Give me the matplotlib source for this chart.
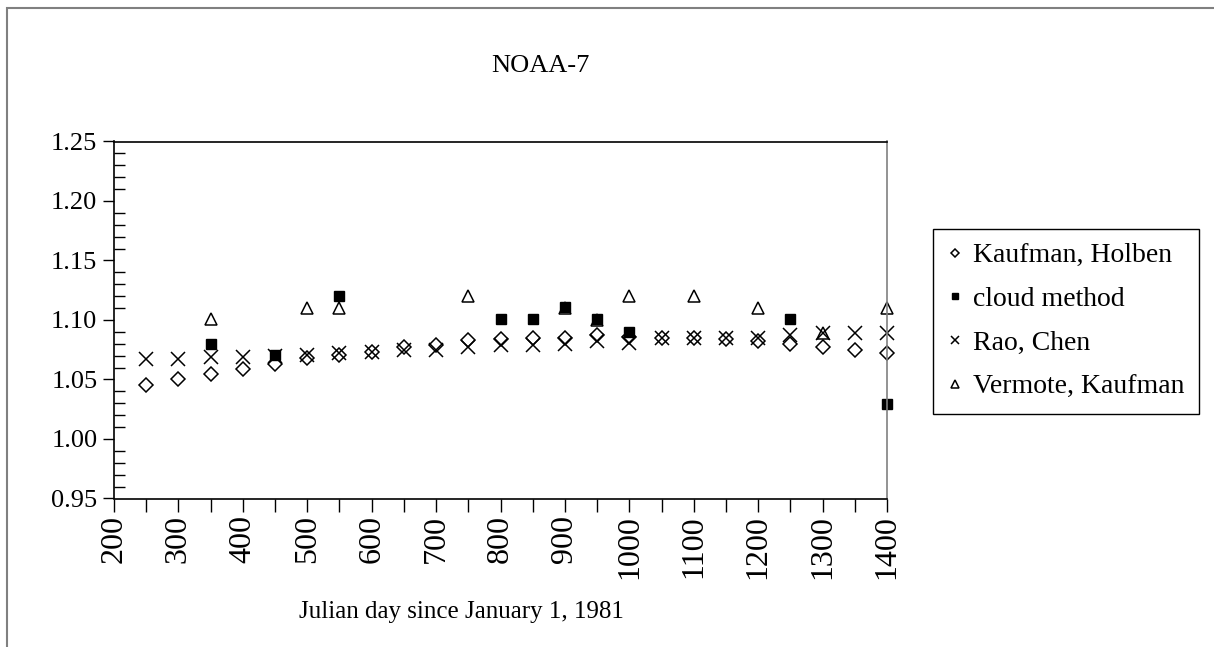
import matplotlib
matplotlib.use("Agg")
import matplotlib.pyplot as plt
from matplotlib.patches import Rectangle
from matplotlib.ticker import MultipleLocator

plt.rcParams['font.family'] = ['Liberation Serif', 'DejaVu Serif']

# Kaufman, Holben
kh_day = [250, 300, 350, 400, 450, 500, 550, 600, 650, 700, 750, 800, 850, 900,
          950, 1000, 1050, 1100, 1150, 1200, 1250, 1300, 1350, 1400]
kh_val = [1.045, 1.050, 1.055, 1.059, 1.063, 1.068, 1.071, 1.073, 1.077, 1.079,
          1.083, 1.084, 1.085, 1.085, 1.087, 1.086, 1.085, 1.085, 1.084, 1.082,
          1.080, 1.077, 1.075, 1.072]

# cloud method
cm_day = [350, 450, 550, 800, 850, 900, 950, 1000, 1250, 1400]
cm_val = [1.080, 1.071, 1.120, 1.101, 1.101, 1.111, 1.101, 1.090, 1.101, 1.029]

# Rao, Chen
rc_day = kh_day
rc_val = [1.067, 1.067, 1.069, 1.069, 1.070, 1.071, 1.072, 1.073, 1.075, 1.075,
          1.077, 1.079, 1.079, 1.080, 1.082, 1.081, 1.085, 1.085, 1.085, 1.085,
          1.087, 1.089, 1.089, 1.089]

# Vermote, Kaufman
vk_day = [350, 500, 550, 750, 900, 950, 1000, 1100, 1200, 1300, 1400]
vk_val = [1.101, 1.110, 1.110, 1.120, 1.110, 1.100, 1.120, 1.120, 1.110, 1.089, 1.110]

W, H = 1214, 647
fig = plt.figure(figsize=(W / 100, H / 100), dpi=100)
ax = fig.add_axes([114 / W, 1 - 498.5 / H, (887 - 114) / W, (498.5 - 141.5) / H])

ax.plot(kh_day, kh_val, ls='none', marker='D', ms=7.5, mfc='white', mec='black', mew=1.1,
        label='Kaufman, Holben', clip_on=False)
ax.plot(cm_day, cm_val, ls='none', marker='s', ms=6.5, mfc='black', mec='black',
        label='cloud method', clip_on=False)
ax.plot(rc_day, rc_val, ls='none', marker='x', ms=9.5, color='black', mew=1.1,
        label='Rao, Chen', clip_on=False)
ax.plot(vk_day, vk_val, ls='none', marker='^', ms=8.5, mfc='none', mec='black', mew=1.1,
        label='Vermote, Kaufman', clip_on=False)

ax.set_xlim(200, 1400)
ax.set_ylim(0.95, 1.25)
ax.xaxis.set_major_locator(MultipleLocator(100))
ax.xaxis.set_minor_locator(MultipleLocator(50))
ax.yaxis.set_major_locator(MultipleLocator(0.05))
ax.yaxis.set_minor_locator(MultipleLocator(0.01))
ax.yaxis.set_major_formatter(plt.FormatStrFormatter('%.2f'))

ax.tick_params(axis='x', which='both', direction='out', length=9, width=1, labelsize=23,
               labelrotation=90, pad=3)
ax.tick_params(axis='y', which='major', direction='out', length=8, width=1, labelsize=19, pad=4)
ax.tick_params(axis='y', which='minor', direction='in', length=8, width=1)
ax.tick_params(top=False, right=False)
for s in ax.spines.values():
    s.set_linewidth(1.2)
ax.spines['right'].set_color('#808080')

fig.text(540 / W, 1 - 66 / H, 'NOAA-7', fontsize=19, ha='center', va='center')
fig.text(461 / W, 1 - 612 / H, 'Julian day since January 1, 1981', fontsize=18,
         ha='center', va='center')

leg = ax.legend(loc='upper left', bbox_to_anchor=(933 / W, 1 - 229 / H),
                bbox_transform=fig.transFigure, borderaxespad=0, fancybox=False,
                edgecolor='black', fontsize=20, markerscale=0.6, handlelength=0.6,
                handletextpad=0.35, labelspacing=0.66, borderpad=0.5, framealpha=1)
leg.get_frame().set_linewidth(1.0)

fig.patches.append(Rectangle((7 / W, -0.05), 1.1, 1 - 8 / H + 0.05, transform=fig.transFigure,
                             fill=False, edgecolor='#808080', lw=1.5))

fig.savefig('out.png', dpi=100)
